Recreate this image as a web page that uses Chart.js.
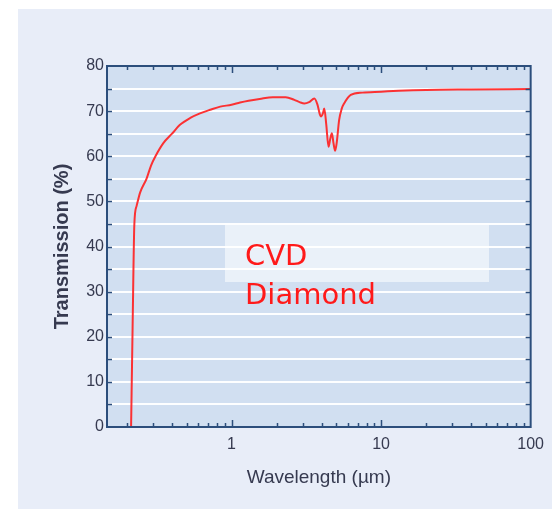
<!DOCTYPE html>
<html>
<head>
<meta charset="utf-8">
<script src="https://cdn.jsdelivr.net/npm/chart.js@4/dist/chart.umd.min.js"></script>
<style>
	html, body { margin: 0; padding: 0; background: #ffffff; }
	#wrap { width: 552px; height: 509px; }
</style>
</head>
<body>
<div id="wrap"><canvas id="c" width="552" height="509"></canvas></div>
<script>
// wavelength in µm, transmission in %
const wavelength = [
	0.213, 0.218, 0.224, 0.232, 0.245, 0.27, 0.29, 0.31, 0.35, 0.40,
	0.45, 0.53, 0.615, 0.72, 0.84, 1.0, 1.14, 1.3, 1.54, 1.89,
	2.3, 2.63, 2.85, 3.07, 3.3, 3.58, 3.75, 3.9, 3.96, 4.08,
	4.17, 4.3, 4.45, 4.58, 4.69, 4.8, 4.93, 5.05, 5.24, 5.45,
	5.66, 6.27, 7.5, 10, 13.1, 20, 40, 100,
];
const transmission = [
	0, 22, 45, 49, 52, 55, 58, 60, 62.9, 65,
	66.9, 68.5, 69.5, 70.3, 71.0, 71.4, 71.9, 72.3, 72.7, 73.1,
	73.1, 72.5, 72.0, 71.7, 72.0, 72.8, 71.5, 69.2, 68.8, 69.5,
	70.6, 67, 62.1, 64, 65.1, 63, 61.2, 63, 68.0, 70.5,
	71.7, 73.6, 74.1, 74.3, 74.5, 74.7, 74.8, 74.9,
];
const xTickValues = [1, 10, 100];
const yTickValues = [0, 10, 20, 30, 40, 50, 60, 70, 80];
const noteLines = ['CVD', 'Diamond'];

const FRAME = '#2c4e7c';
const TEXT = '#363a50';
const FONT = '"Liberation Sans", Arial, sans-serif';

// backgrounds, frame, inside ticks and the text box
const decor = {
	id: 'decor',
	beforeDraw(chart) {
		const { ctx, chartArea: a } = chart;
		ctx.save();
		ctx.fillStyle = '#ffffff';
		ctx.fillRect(0, 0, chart.width, chart.height);
		ctx.fillStyle = '#e8edf8';
		ctx.fillRect(18, 9, chart.width - 18, chart.height - 9);
		ctx.fillStyle = '#d1dff1';
		ctx.fillRect(a.left, a.top, a.right - a.left, a.bottom - a.top);
		ctx.restore();
	},
	afterDraw(chart) {
		const { ctx, chartArea: a } = chart;
		const xs = chart.scales.x;
		const ys = chart.scales.y;
		ctx.save();
		ctx.strokeStyle = FRAME;
		ctx.lineWidth = 1.5;
		ctx.beginPath();
		// log ticks along bottom and top
		for (let d = 0.1; d < 100; d *= 10) {
			for (let k = 1; k <= 9; k++) {
				const v = d * k;
				if (v < xs.min || v > xs.max) continue;
				const px = Math.round(xs.getPixelForValue(v)) + 0.5;
				const len = k === 1 ? 7 : 4;
				ctx.moveTo(px, a.bottom);
				ctx.lineTo(px, a.bottom - len);
				ctx.moveTo(px, a.top);
				ctx.lineTo(px, a.top + len);
			}
		}
		// ticks every 5 on left and right
		for (let v = 5; v < 80; v += 5) {
			const py = Math.round(ys.getPixelForValue(v)) + 0.5;
			ctx.moveTo(a.left, py);
			ctx.lineTo(a.left + 5, py);
			ctx.moveTo(a.right, py);
			ctx.lineTo(a.right - 5, py);
		}
		ctx.stroke();
		ctx.lineWidth = 2;
		ctx.strokeRect(a.left, a.top, a.right - a.left, a.bottom - a.top);

		// annotation box
		ctx.fillStyle = 'rgba(255,255,255,0.55)';
		ctx.fillRect(225, 225, 264, 57);
		ctx.fillStyle = '#ff1a1a';
		ctx.font = '29px "DejaVu Sans", sans-serif';
		ctx.textBaseline = 'alphabetic';
		ctx.textAlign = 'left';
		ctx.fillText(noteLines[0], 245, 265);
		ctx.fillText(noteLines[1], 245, 304);
		ctx.restore();
	},
};

new Chart(document.getElementById('c'), {
	type: 'line',
	data: {
		datasets: [
			{
				data: wavelength.map((w, i) => ({ x: w, y: transmission[i] })),
				borderColor: 'rgba(255,30,30,0.9)',
				borderWidth: 2,
				pointRadius: 0,
				cubicInterpolationMode: 'monotone',
				fill: false,
			},
		],
	},
	options: {
		responsive: false,
		animation: false,
		layout: {
			padding: { left: 0, top: 66, right: 19, bottom: 0 },
		},
		plugins: {
			legend: { display: false },
			tooltip: { enabled: false },
		},
		scales: {
			x: {
				type: 'logarithmic',
				min: 0.147,
				max: 100,
				afterFit: (s) => {
					s.height = 82;
				},
				afterBuildTicks: (s) => {
					s.ticks = xTickValues.map((v) => ({ value: v }));
				},
				grid: { display: false, drawTicks: false },
				border: { display: false },
				ticks: {
					autoSkip: false,
					maxRotation: 0,
					padding: 8,
					color: TEXT,
					font: { family: FONT, size: 16 },
					callback: (v) => String(v),
				},
				title: {
					display: true,
					text: 'Wavelength (µm)',
					color: TEXT,
					font: { family: FONT, size: 19 },
					padding: { top: 0, bottom: 20 },
				},
			},
			y: {
				min: 0,
				max: 80,
				afterFit: (s) => {
					s.width = 107;
				},
				afterBuildTicks: (s) => {
					const t = [];
					for (let v = 0; v <= 80; v += 5) t.push({ value: v });
					s.ticks = t;
				},
				grid: {
					color: 'rgba(255,255,255,0.95)',
					lineWidth: 2,
					drawTicks: false,
				},
				border: { display: false },
				ticks: {
					padding: 3,
					color: TEXT,
					font: { family: FONT, size: 16 },
					callback: (v) => (yTickValues.includes(v) ? String(v) : ''),
				},
				title: {
					display: true,
					text: 'Transmission (%)',
					color: TEXT,
					font: { family: FONT, size: 20, weight: '600' },
					padding: { top: 50, bottom: 0 },
				},
			},
		},
	},
	plugins: [decor],
});
</script>
</body>
</html>
